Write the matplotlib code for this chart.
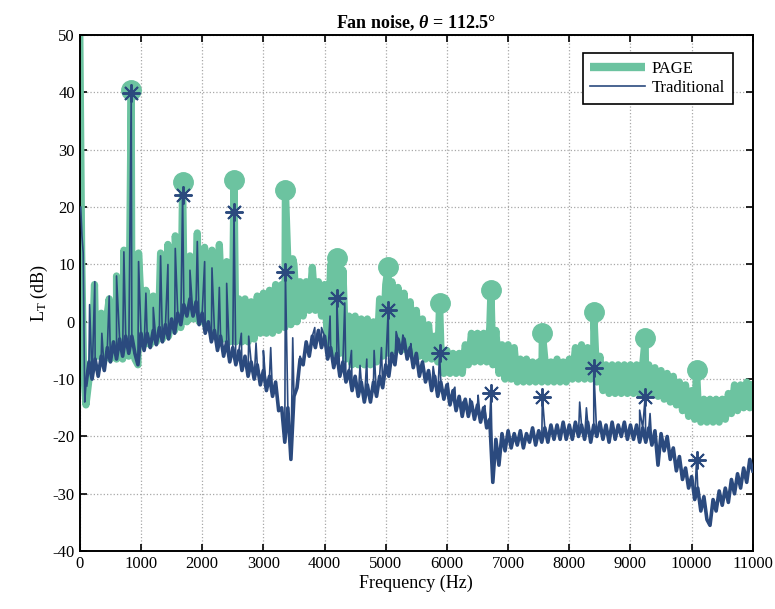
import numpy as np
import matplotlib
matplotlib.use("Agg")
import matplotlib.pyplot as plt

plt.rcParams['font.family'] = ['Liberation Serif', 'DejaVu Serif']
plt.rcParams['mathtext.fontset'] = 'custom'
plt.rcParams['mathtext.rm'] = 'Liberation Serif'
plt.rcParams['mathtext.it'] = 'Liberation Serif:italic:bold'
plt.rcParams['axes.unicode_minus'] = False

# ---- data (Hz, dB) ----
# blade passing harmonics with the markers
bpf = [840, 1680, 2520, 3360, 4200, 5040, 5880, 6720, 7560, 8400, 9240, 10080]
page_peak = [40.4, 24.4, 24.7, 23.0, 11.1, 9.6, 3.2, 5.5, -2.0, 1.7, -2.9, -8.4]
trad_peak = [39.9, 22.1, 19.2, 8.7, 4.1, 2.0, -5.5, -12.5, -13.1, -8.1, -13.1, -24.1]

# Traditional: first few bins, then broadband every 50 Hz from 100 Hz
trad_start_f = [15, 35, 55, 80]
trad_start_v = [20, 15, 12, -14]
trad_base = [
    -11, -7, -10, -6.5, -9.5, -6, -8.5, -4.5, -7, -3.5, -6.5, -3, -6, -2.5, -5.5, -2.5, -5.5, -7.5, -2,
    -5, -2, -4.5, -1.5, -4, -1, -3.5, -0.5, -3, 0.5, -2, 1.5, -0.5, 3, 1, 4, 1, 3.5, -0.5, 1.5,
    -2, 0, -3.5, -1.5, -5, -2.5, -6, -3.5, -7, -4.5, -7.5, -5, -8.5, -6, -9.5, -7, -10, -7.5, -11, -8.5,
    -12, -9.5, -13, -10.5, -15.5, -15, -21, -15, -24, -13, -11.5, -6.5, -7.5, -3.5, -6, -2.5, -4.5, -1.5, -4.5, -2.5,
    -6.5, -4.5, -8, -5.5, -9.5, -7, -10.5, -8.5, -12, -9.5, -13, -10.5, -14, -11, -14, -10.5, -13, -9.5, -11.5, -7.5,
    -9.5, -5.5, -7.5, -3, -5.5, -3, -6.5, -4.5, -8, -5.5, -9.5, -7, -10.5, -8.5, -12, -9.5, -13, -10.5, -13.5, -11,
    -14.5, -12, -15.5, -13, -16.5, -13.5, -16.5, -14, -17, -14.5, -17.5, -15, -18.5, -17, -28, -20.5, -25, -19.5, -22.5, -19,
    -22, -19.5, -21.5, -19, -22, -19.5, -21, -18.5, -21.5, -19, -21, -18.5, -21, -18, -20.5, -18, -20.5, -17.5, -20.5, -18,
    -20.5, -17.5, -20, -18, -20.5, -17.5, -21, -18, -20, -17.5, -20.5, -18, -21, -17.5, -20.5, -18, -20, -17.5, -20.5, -18,
    -20.5, -18, -21, -18.5, -21, -18.5, -21.5, -19, -25, -19.5, -22.5, -20, -24, -22, -26, -23.5, -27.5, -25.5, -29, -27,
    -31, -29, -33, -30.5, -34.5, -35.5, -31, -33, -29.5, -32, -29, -31.5, -27.5, -30, -26.5, -29, -25.5, -28, -24, -26,
]
trad_tone_f = [160, 245, 360, 480, 600, 720, 960, 1080, 1200, 1320, 1440, 1560, 1800, 1920,
               2040, 2160, 2280, 2400, 2640, 2760, 2880, 3000, 3120, 3480, 3600, 3840, 3950,
               4090, 4330, 4440, 4580, 4690, 4810, 4930, 5170, 5280, 5410, 5775, 6020, 6130,
               6260, 6375, 6510, 6620, 8170, 8280, 9150, 9320]
trad_tone_v = [3, 7, -2, 4.5, 8, 12.2, 10.5, 5, 2.5, 11.5, 10, 12.8, 9, 14,
               10.5, 9.4, 6, 6.7, -2, -2.5, -3.7, -5, -4.5, -2.8, -6, -1, -1,
               1, 3.3, -5, -7.6, -6.5, -5, -4.5, -1.7, -2.3, -3.8, -7.8, -10.7, -11.4,
               -14, -13.4, -12.8, -14.6, -14, -15, -15.4, -16]

# PAGE
page_start_f = [0, 30, 60]
page_start_v = [50, 12, -8]
page_base = [
    -14.5, -10, -6, 1, -6, 1.5, -6.5, 1.5, -6.5, 2, -6.5, 3, -6.5, 3, -6, 3.5, -6.5, -7.5, 3.5,
    -4, 4.5, -4, 4, -3.5, 4.5, -3, 5, -2.5, 6, -1.5, 6.5, -1, 8, 0, 9, 0.5, 9.5, 0, 9.5,
    -0.5, 9, -1.5, 8.5, -2.5, 8.5, -3, 8, -3.5, 7, -3.5, 4, -3.5, 4, -3.5, 3.5, -3, 4.5, -2, 5,
    -2, 5.5, -2, 6.5, -1.5, 6.5, -1, 10.5, -0.5, 10, 0, 7, 1, 7, 2, 9.5, 2, 7, 1, 6.5,
    -4, 10, -5.5, 10.5, -5.5, 9, -6.5, 1, -7.5, 1, -7.5, 0.5, -7.5, 0.5, -7.5, 0, -7, 4, -6, 6.5,
    -5.5, 7, -5, 6, -5, 5, -5, 3.5, -5.5, 2, -6, 0.5, -6.5, -0.5, -6.5, -2.5, -7, -4, -9, -5,
    -9, -5.5, -9, -5.5, -9, -4, -7.5, -2, -7, -2, -7, -2, -7, -1, -7.5, -1.5, -9, -4, -10, -4,
    -10, -4.5, -10.5, -6.5, -10.5, -6.5, -10.5, -7, -10.5, -7, -10.5, -6.5, -10.5, -7, -10.5, -6.5, -10.5, -7, -10.5, -6.5,
    -10, -4.5, -10, -4, -10, -4.5, -10, -5, -10.5, -6, -12, -7.5, -12.5, -7.5, -12.5, -7.5, -12.5, -7.5, -12.5, -7.5,
    -12.5, -7.5, -12.5, -7.5, -12.5, -7.5, -12.5, -8, -13, -8.5, -13.5, -9, -14, -9.5, -14.5, -10.5, -15.5, -11, -16.5, -12,
    -17, -13, -17.5, -13.5, -17.5, -13.5, -17.5, -13.5, -17.5, -13.5, -17, -12.5, -16, -11, -15.5, -11, -15, -10.5, -15, -11,
]
page_tone_f = [240, 480, 600, 720, 960, 1080, 1200, 1320, 1440, 1560, 1800, 1920,
               2040, 2160, 2280, 2400, 3480]
page_tone_v = [6.5, 4, 8, 12.5, 12, 5.5, 4.5, 12, 13.5, 15, 11.5, 15.5,
               13, 12.5, 13.5, 10.5, 11]

grid_f = np.arange(100, 11001, 50)


def build(start_f, start_v, base, tone_f, tone_v, peak_v):
    f = np.concatenate([start_f, grid_f, tone_f, bpf])
    v = np.concatenate([start_v, base, tone_v, peak_v])
    order = np.argsort(f, kind='stable')
    return f[order], v[order]


page_f, page_v = build(page_start_f, page_start_v, page_base, page_tone_f, page_tone_v, page_peak)
trad_f, trad_v = build(trad_start_f, trad_start_v, trad_base, trad_tone_f, trad_tone_v, trad_peak)

green = '#6cc3a0'
blue = '#2b4a7e'

fig = plt.figure(figsize=(7.75, 6.09), dpi=100)
ax = fig.add_axes([0.103, 0.095, 0.8684, 0.8473])

ax.plot(page_f, page_v, color=green, lw=5.2, solid_joinstyle='round', label='PAGE', zorder=2)
ax.plot(bpf, page_peak, 'o', color=green, ms=14, zorder=2)
# broadband part drawn heavier so the noise reads as a band, tones thin on top
ax.plot(grid_f, trad_base, color=blue, lw=2.6, solid_joinstyle='round', zorder=3)
ax.plot(trad_f, trad_v, color=blue, lw=1.2, label='Traditional', zorder=3)
ax.plot(bpf, trad_peak, linestyle='none', marker=(8, 2, 0), color=blue, ms=13, mew=1.4, zorder=4)

ax.set_xlim(0, 11000)
ax.set_ylim(-40, 50)
ax.set_xticks(np.arange(0, 11001, 1000))
ax.set_yticks(np.arange(-40, 51, 10))
ax.grid(True, linestyle=':', color='#a8a8a8', lw=0.9)
ax.tick_params(direction='in', top=True, right=True, length=5, width=1.2, labelsize=12)
for s in ax.spines.values():
    s.set_linewidth(1.4)

ax.set_xlabel('Frequency (Hz)', fontsize=13, labelpad=2)
ax.set_ylabel(r'L$_\mathrm{T}$ (dB)', fontsize=13, labelpad=2)
ax.set_title(r'Fan noise, $\theta$ = 112.5°', fontsize=13, fontweight='bold', pad=5)

leg = ax.legend(loc='upper right', bbox_to_anchor=(0.970, 0.965), fontsize=12,
                handlelength=3.3, fancybox=False, framealpha=1, edgecolor='black',
                borderpad=0.45, labelspacing=0.2, handletextpad=0.4, borderaxespad=0)
leg.get_frame().set_linewidth(1.2)
leg.get_lines()[0].set_linewidth(6)
leg.get_lines()[0].set_solid_capstyle('butt')

fig.savefig('out.png', dpi=100)
